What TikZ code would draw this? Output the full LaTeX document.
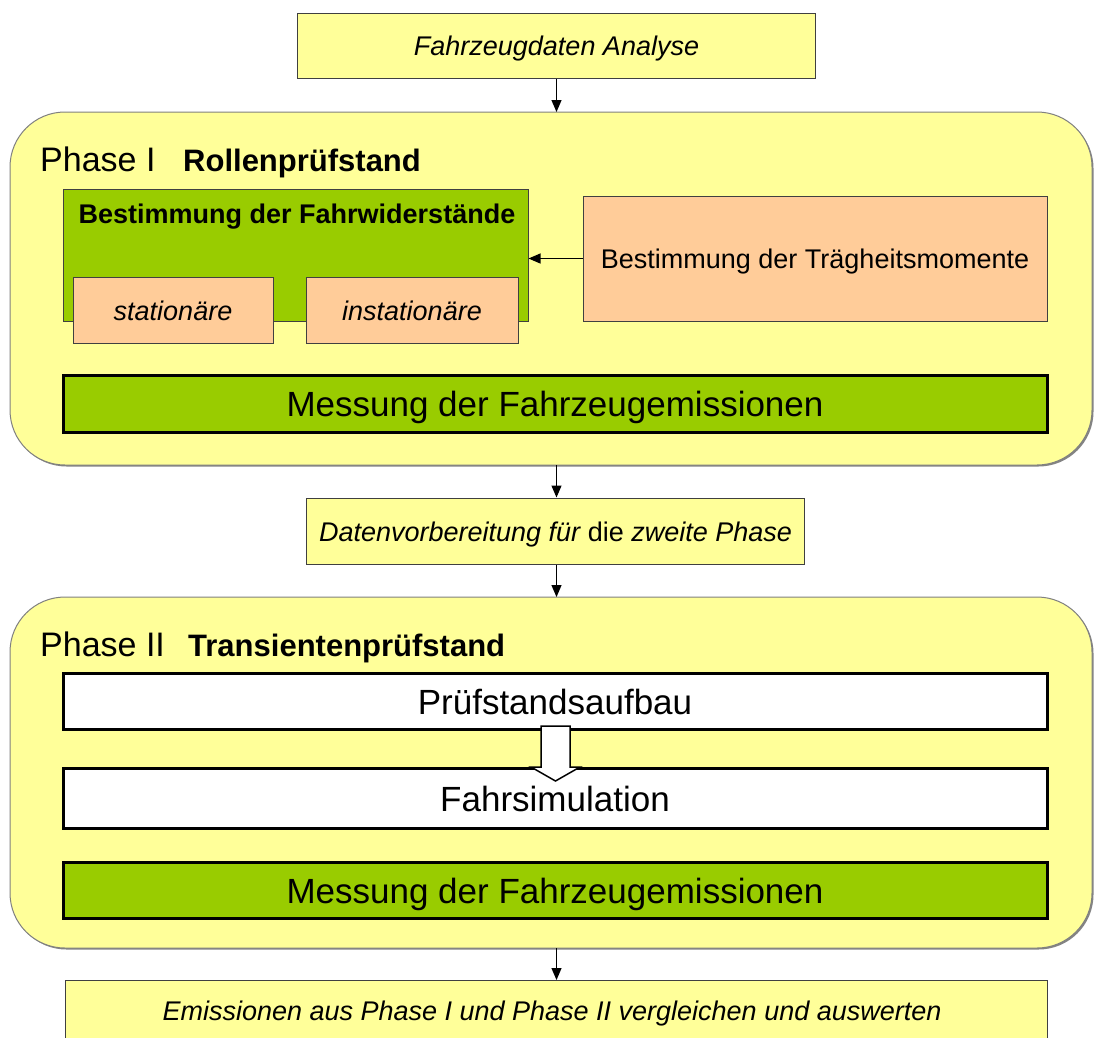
\documentclass[tikz,border=0pt]{standalone}
\usepackage{fontspec}
\setmainfont{Liberation Sans}
\usetikzlibrary{arrows.meta,shadows}
\definecolor{ylw}{HTML}{FFFF99}
\definecolor{grn}{HTML}{99CC00}
\definecolor{org}{HTML}{FFCC99}
\definecolor{brd}{HTML}{404040}
\newcommand{\fsz}[1]{\fontsize{#1}{#1}\selectfont}
\tikzset{
  thinbox/.style={draw=brd, line width=1pt, inner sep=0pt, font=\fsz{27}, text height=21pt, text depth=1pt},
  thickbox/.style={draw=black, line width=3pt, inner sep=0pt, font=\fsz{35}, text height=28pt, text depth=1.5pt},
  phasebox/.style={draw=gray, line width=1pt, fill=ylw, rounded corners=55pt,
     drop shadow={shadow xshift=1.5pt, shadow yshift=-1.5pt, fill=black!60, opacity=0.8}},
  conn/.style={line width=1.2pt, -{Triangle[length=12pt,width=10pt]}},
  lbl/.style={inner sep=0pt, anchor=base west},
}
\begin{document}
\begin{tikzpicture}[x=1pt,y=-1pt]
\useasboundingbox (0,0) rectangle (1094,1037);
\clip (0,0) rectangle (1094,1037);
\fill[white] (0,0) rectangle (1094,1037);

% top box
\node[thinbox, fill=ylw, minimum width=518, minimum height=65] (top) at (556.5,45.5) {\itshape Fahrzeugdaten Analyse};

% Phase I
\path[phasebox] (10,112) rectangle (1092,465);
\coordinate (p1top) at (556.5,112);
\coordinate (p1bot) at (556.5,465);
\node[lbl, font=\fsz{34}] (ph1) at (40,171) {Phase I};
\node[lbl, font=\bfseries\fsz{31}] (ph1t) at (183,171) {Rollenprüfstand};

\node[thinbox, fill=grn, minimum width=465, minimum height=132] (fw) at (295.5,255) {};
\node[inner sep=0pt, anchor=base, font=\bfseries\fsz{27}] (fwt) at (297,223) {Bestimmung der Fahrwiderstände};
\node[thinbox, fill=org, minimum width=200, minimum height=66] (st) at (173,310) {\itshape stationäre};
\node[thinbox, fill=org, minimum width=212, minimum height=66] (ist) at (412,310) {\itshape instationäre};
\node[thinbox, fill=org, minimum width=464, minimum height=125] (tr) at (815,258.5) {Bestimmung der Trägheitsmomente};
\draw[conn] (tr.west) -- (tr.west -| fw.east);

\node[thickbox, fill=grn, minimum width=984, minimum height=57] (m1) at (555,403.5) {Messung der Fahrzeugemissionen};

% Daten
\node[thinbox, fill=ylw, minimum width=498, minimum height=66] (dv) at (555.5,531) {\itshape Datenvorbereitung für \upshape die \itshape zweite Phase};

% Phase II
\path[phasebox] (10,597) rectangle (1092,948);
\coordinate (p2top) at (556.5,597);
\coordinate (p2bot) at (556.5,948);
\node[lbl, font=\fsz{34}] (ph2) at (40,656) {Phase II};
\node[lbl, font=\bfseries\fsz{31}] (ph2t) at (188,656) {Transientenprüfstand};

\node[thickbox, fill=white, minimum width=984, minimum height=56] (pa) at (555,701) {Prüfstandsaufbau};
\node[thickbox, fill=white, minimum width=984, minimum height=60] (fs) at (555,798) {Fahrsimulation};
\draw[draw=black, line width=1.5pt, fill=white, line join=miter]
  (541,726) -- (570,726) -- (570,767) -- (580,767) -- (555.5,781) -- (531,767) -- (541,767) -- cycle;
\node[thickbox, fill=grn, minimum width=984, minimum height=56] (m2) at (555,890) {Messung der Fahrzeugemissionen};

% bottom box
\node[thinbox, fill=ylw, minimum width=982, minimum height=80, anchor=north] (em) at (556,980) {};
\node[inner sep=0pt, anchor=base, font=\itshape\fsz{27}] (emt) at (552,1020) {Emissionen aus Phase I und Phase II vergleichen und auswerten};

% connectors
\draw[conn] (top.south) -- (p1top);
\draw[conn] (p1bot) -- (dv.north -| p1bot);
\draw[conn] (dv.south -| p2top) -- (p2top);
\draw[conn] (p2bot) -- (em.north -| p2bot);
\end{tikzpicture}
\end{document}
